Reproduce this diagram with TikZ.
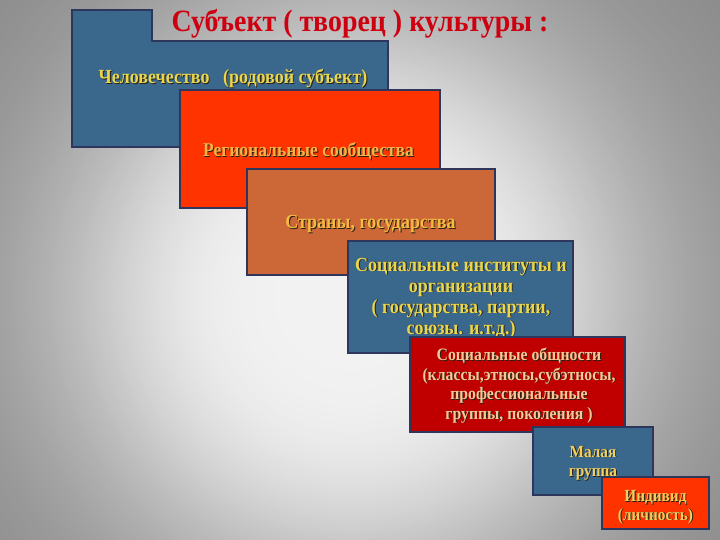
\documentclass[tikz,border=0pt]{standalone}
\usepackage{fontspec}
\setmainfont[FakeStretch=0.9]{Liberation Serif}
\definecolor{steel}{RGB}{58,103,140}
\definecolor{hotred}{RGB}{255,51,0}
\definecolor{rust}{RGB}{204,104,56}
\definecolor{darkred}{RGB}{192,0,0}
\definecolor{navyline}{RGB}{46,54,92}
\definecolor{titlered}{RGB}{206,0,16}
\definecolor{tyellow}{RGB}{232,214,76}
\definecolor{torange}{RGB}{245,180,72}
\definecolor{tgold}{RGB}{245,186,64}
\definecolor{tpeach}{RGB}{248,200,150}
\definecolor{tyel2}{RGB}{240,208,96}
\definecolor{shadowc}{RGB}{40,30,20}
\definecolor{bgouter}{gray}{0.55}
\newcommand\shd[1]{\rlap{\kern0.9pt\raisebox{-0.9pt}{\color{shadowc}#1}}#1}
\tikzset{
  boxline/.style={draw=navyline, line width=1.6pt},
  slab/.style={boxline, rectangle, inner sep=0pt},
  txt/.style={anchor=base, inner sep=0pt, font=\bfseries\fontsize{#1}{#1}\selectfont},
  titletxt/.style={anchor=base, inner sep=0pt, text=titlered, font=\bfseries\fontsize{31}{31}\selectfont}
}
\begin{document}
\begin{tikzpicture}[x=1pt,y=-1pt]
\useasboundingbox (0,0) rectangle (720,540);
\begin{scope}
\clip (0,0) rectangle (720,540);
\fill[bgouter] (0,0) rectangle (720,540);
\foreach \r in {488,484,...,4} {
  \pgfmathsetmacro\g{0.50+0.45/(1+(\r/285)^4)}
  \definecolor{bgtmp}{gray}{\g}
  \fill[bgtmp] (350,295) circle[radius=\r];
}
\end{scope}
% box 1
\draw[boxline, fill=steel] (72,10) -- (152,10) -- (152,41) -- (388,41) -- (388,147) -- (72,147) -- cycle;
\node[txt=20, text=tyellow] (t1) at (233,84) {\shd{Человечество\ \ \ (родовой субъект)}};
\node[titletxt] (title) at (360,32) {Субъект ( творец ) культуры :};
% box 2
\node[slab, fill=hotred, minimum width=260pt, minimum height=118pt] (b2) at (310,149) {};
\node[txt=19.5, text=torange] (t2) at (308.5,157) {\shd{Региональные сообщества}};
% box 3
\node[slab, fill=rust, minimum width=248pt, minimum height=106pt] (b3) at (371,222) {};
\node[txt=20, text=tgold] (t3) at (370.5,229) {\shd{Страны, государства}};
% box 4
\node[slab, fill=steel, minimum width=225pt, minimum height=112pt] (b4) at (460.5,297) {};
\node[txt=20, text=tyellow] (t4a) at (461,271) {\shd{Социальные институты и}};
\node[txt=20, text=tyellow] (t4b) at (461,292) {\shd{организации}};
\node[txt=20, text=tyellow] (t4c) at (461,313) {\shd{( государства, партии,}};
\node[txt=20, text=tyellow] (t4d) at (461,334) {\shd{союзы. и.т.д.)}};
% box 5
\node[slab, fill=darkred, minimum width=215pt, minimum height=95pt] (b5) at (517.5,384.5) {};
\node[txt=17.5, text=tpeach] (t5a) at (519,360.5) {\shd{Социальные общности}};
\node[txt=17.5, text=tpeach] (t5b) at (519,380) {\shd{(классы,этносы,субэтносы,}};
\node[txt=17.5, text=tpeach] (t5c) at (519,399.5) {\shd{профессиональные}};
\node[txt=17.5, text=tpeach] (t5d) at (519,419) {\shd{группы, поколения )}};
% box 6
\node[slab, fill=steel, minimum width=120pt, minimum height=68pt] (b6) at (593,461) {};
\node[txt=17, text=tyel2] (t6a) at (593,457) {\shd{Малая}};
\node[txt=17, text=tyel2] (t6b) at (593,476.5) {\shd{группа}};
% box 7
\node[slab, fill=hotred, minimum width=107pt, minimum height=52pt] (b7) at (655.5,503) {};
\node[txt=17, text=tyel2] (t7a) at (655.5,501.5) {\shd{Индивид}};
\node[txt=17, text=tyel2] (t7b) at (655.5,520) {\shd{(личность)}};
\end{tikzpicture}
\end{document}
